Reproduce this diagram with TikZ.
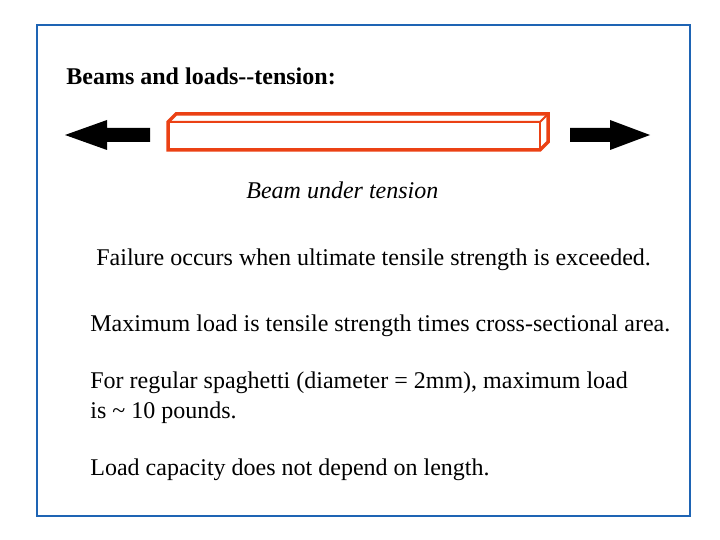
\documentclass[tikz,border=0pt]{standalone}
\usepackage{fontspec}
\setmainfont{Liberation Serif}
\usepackage[x11names]{xcolor}
\definecolor{framebl}{RGB}{30,100,180}
\definecolor{beamred}{RGB}{235,65,20}
\begin{document}
\begin{tikzpicture}[x=1pt,y=-1pt,thick]
\tikzset{txt/.style={anchor=base west,inner sep=0pt,font=\fontsize{24}{28}\selectfont}}
\useasboundingbox (0,0) rectangle (720,540);
\draw[framebl,line width=2.5pt] (37,25) rectangle (690,516);

\node[txt,font=\fontsize{24}{28}\selectfont\bfseries] (title) at (66,85) {Beams and loads-{}-tension:};

% beam
\draw[beamred,line width=3.5pt,fill=white] (168,122) -- (176,114) -- (548,114) -- (548,142) -- (540,150) -- (168,150) -- cycle;
\draw[beamred,line width=2pt] (168,122) -- (540,122) -- (548,114);
\draw[beamred,line width=2pt] (540,122) -- (540,150);

% loads
\fill (150,128) -- (107,128) -- (107,120) -- (65,135) -- (107,150) -- (107,142) -- (150,142) -- cycle;
\fill (570,128) -- (610,128) -- (610,120) -- (650,135) -- (610,150) -- (610,142) -- (570,142) -- cycle;

\node[txt,font=\fontsize{24}{28}\selectfont\itshape] (caption) at (246,199) {Beam under tension};
\node[txt] (fail) at (96,265) {Failure occurs when ultimate tensile strength is exceeded.};
\node[txt] (maxload) at (90,331) {Maximum load is tensile strength times cross-sectional area.};
\node[txt] (spag) at (90,388) {For regular spaghetti (diameter = 2mm), maximum load};
\node[txt] (spag2) at (90,418) {is \textasciitilde{} 10 pounds.};
\node[txt] (length) at (90,475) {Load capacity does not depend on length.};
\end{tikzpicture}
\end{document}
